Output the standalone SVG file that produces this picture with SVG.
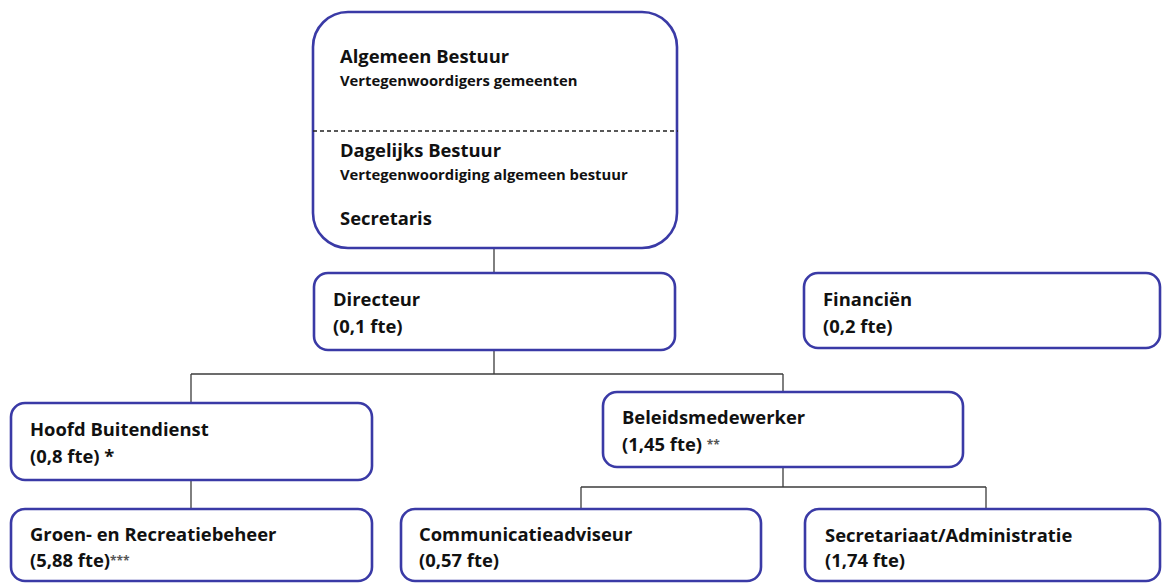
<svg xmlns="http://www.w3.org/2000/svg" width="1162" height="583" viewBox="0 0 1162 583">
<style>
.box{fill:#fff;stroke:#3a3aa6;stroke-width:2.6}
.conn{fill:none;stroke:#3c3c3c;stroke-width:1.3}
.t{font-family:"Open Sans","Noto Sans","Liberation Sans",sans-serif;font-weight:bold;font-size:18.4px;fill:#111}
.s{font-family:"Open Sans","Noto Sans","Liberation Sans",sans-serif;font-weight:bold;font-size:14.8px;fill:#111}
.ast{font-size:12px;fill:#555}
</style>
<rect width="1162" height="583" fill="#fff"/>
<g id="connectors">
<path class="conn" d="M494 248V273M494 350V374M191 374H783M191 374V403M783 374V392M783 467V487M581 487H986M581 487V509M986 487V509M191 480V509"/>
</g>
<g id="bestuur">
<rect class="box" x="313" y="12" width="364" height="236" rx="35"/>
<line x1="313" y1="131" x2="678" y2="131" stroke="#222" stroke-width="1.3" stroke-dasharray="4 3"/>
<text class="t" x="340" y="63">Algemeen Bestuur</text>
<text class="s" x="340" y="86">Vertegenwoordigers gemeenten</text>
<text class="t" x="340" y="157">Dagelijks Bestuur</text>
<text class="s" x="340" y="180">Vertegenwoordiging algemeen bestuur</text>
<text class="t" x="340" y="225">Secretaris</text>
</g>
<g id="directeur">
<rect class="box" x="314" y="273" width="361" height="77" rx="14"/>
<text class="t" x="333" y="306">Directeur</text>
<text class="t" x="333" y="333">(0,1 fte)</text>
</g>
<g id="financien">
<rect class="box" x="804" y="273" width="356" height="75" rx="14"/>
<text class="t" x="823" y="306">Financiën</text>
<text class="t" x="823" y="333">(0,2 fte)</text>
</g>
<g id="hoofd">
<rect class="box" x="11" y="403" width="361" height="77" rx="14"/>
<text class="t" x="30" y="436">Hoofd Buitendienst</text>
<text class="t" x="30" y="463">(0,8 fte) *</text>
</g>
<g id="beleid">
<rect class="box" x="603" y="392" width="360" height="75" rx="14"/>
<text class="t" x="622" y="424">Beleidsmedewerker</text>
<text class="t" x="622" y="451">(1,45 fte) <tspan class="ast" dy="-2">**</tspan></text>
</g>
<g id="groen">
<rect class="box" x="11" y="509" width="361" height="72" rx="14"/>
<text class="t" x="30" y="541">Groen- en Recreatiebeheer</text>
<text class="t" x="30" y="567">(5,88 fte)<tspan class="ast" dy="-2">***</tspan></text>
</g>
<g id="communicatie">
<rect class="box" x="401" y="509" width="360" height="72" rx="14"/>
<text class="t" x="419" y="541">Communicatieadviseur</text>
<text class="t" x="419" y="567">(0,57 fte)</text>
</g>
<g id="secretariaat">
<rect class="box" x="805" y="509" width="355" height="72" rx="14"/>
<text class="t" x="825" y="542">Secretariaat/Administratie</text>
<text class="t" x="825" y="567">(1,74 fte)</text>
</g>
</svg>
